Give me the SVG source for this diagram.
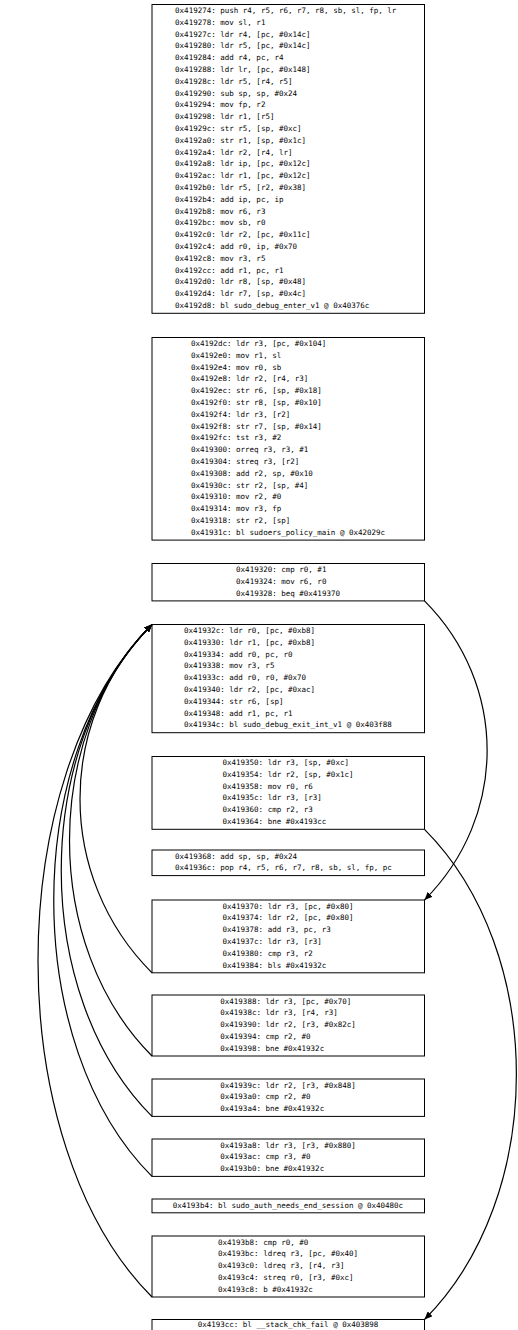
<svg xmlns="http://www.w3.org/2000/svg" width="518" height="1330" viewBox="0 0 518 1330">
<style>
.box{fill:#fff;stroke:#000;stroke-width:1}
.t{font-family:"DejaVu Sans Mono","Liberation Mono",monospace;font-size:7.5px;fill:#000}
.e{fill:none;stroke:#000;stroke-width:1.2}
</style>
<defs>
<marker id="ah" markerUnits="userSpaceOnUse" markerWidth="9" markerHeight="7" refX="8" refY="3.5" orient="auto">
<path d="M0,0 L8,3.5 L0,7 z" fill="#000"/>
</marker>
</defs>
<rect width="518" height="1330" fill="#fff"/>
<g id="n1"><rect class="box" x="152" y="4.5" width="272.5" height="308.8"/>
<text class="t" transform="translate(0,-0.8)"><tspan x="175.1" y="13.9">0x419274: push r4, r5, r6, r7, r8, sb, sl, fp, lr</tspan><tspan x="175.1" y="25.7">0x419278: mov sl, r1</tspan><tspan x="175.1" y="37.5">0x41927c: ldr r4, [pc, #0x14c]</tspan><tspan x="175.1" y="49.3">0x419280: ldr r5, [pc, #0x14c]</tspan><tspan x="175.1" y="61.1">0x419284: add r4, pc, r4</tspan><tspan x="175.1" y="72.9">0x419288: ldr lr, [pc, #0x148]</tspan><tspan x="175.1" y="84.7">0x41928c: ldr r5, [r4, r5]</tspan><tspan x="175.1" y="96.5">0x419290: sub sp, sp, #0x24</tspan><tspan x="175.1" y="108.3">0x419294: mov fp, r2</tspan><tspan x="175.1" y="120.1">0x419298: ldr r1, [r5]</tspan><tspan x="175.1" y="131.9">0x41929c: str r5, [sp, #0xc]</tspan><tspan x="175.1" y="143.7">0x4192a0: str r1, [sp, #0x1c]</tspan><tspan x="175.1" y="155.5">0x4192a4: ldr r2, [r4, lr]</tspan><tspan x="175.1" y="167.3">0x4192a8: ldr ip, [pc, #0x12c]</tspan><tspan x="175.1" y="179.1">0x4192ac: ldr r1, [pc, #0x12c]</tspan><tspan x="175.1" y="190.9">0x4192b0: ldr r5, [r2, #0x38]</tspan><tspan x="175.1" y="202.7">0x4192b4: add ip, pc, ip</tspan><tspan x="175.1" y="214.5">0x4192b8: mov r6, r3</tspan><tspan x="175.1" y="226.3">0x4192bc: mov sb, r0</tspan><tspan x="175.1" y="238.1">0x4192c0: ldr r2, [pc, #0x11c]</tspan><tspan x="175.1" y="249.9">0x4192c4: add r0, ip, #0x70</tspan><tspan x="175.1" y="261.7">0x4192c8: mov r3, r5</tspan><tspan x="175.1" y="273.5">0x4192cc: add r1, pc, r1</tspan><tspan x="175.1" y="285.3">0x4192d0: ldr r8, [sp, #0x48]</tspan><tspan x="175.1" y="297.1">0x4192d4: ldr r7, [sp, #0x4c]</tspan><tspan x="175.1" y="308.9">0x4192d8: bl sudo_debug_enter_v1 @ 0x40376c</tspan></text></g>
<g id="n2"><rect class="box" x="152" y="337.5" width="272.5" height="202.6"/>
<text class="t" transform="translate(0,-0.8)"><tspan x="190.9" y="346.9">0x4192dc: ldr r3, [pc, #0x104]</tspan><tspan x="190.9" y="358.7">0x4192e0: mov r1, sl</tspan><tspan x="190.9" y="370.5">0x4192e4: mov r0, sb</tspan><tspan x="190.9" y="382.3">0x4192e8: ldr r2, [r4, r3]</tspan><tspan x="190.9" y="394.1">0x4192ec: str r6, [sp, #0x18]</tspan><tspan x="190.9" y="405.9">0x4192f0: str r8, [sp, #0x10]</tspan><tspan x="190.9" y="417.7">0x4192f4: ldr r3, [r2]</tspan><tspan x="190.9" y="429.5">0x4192f8: str r7, [sp, #0x14]</tspan><tspan x="190.9" y="441.3">0x4192fc: tst r3, #2</tspan><tspan x="190.9" y="453.1">0x419300: orreq r3, r3, #1</tspan><tspan x="190.9" y="464.9">0x419304: streq r3, [r2]</tspan><tspan x="190.9" y="476.7">0x419308: add r2, sp, #0x10</tspan><tspan x="190.9" y="488.5">0x41930c: str r2, [sp, #4]</tspan><tspan x="190.9" y="500.3">0x419310: mov r2, #0</tspan><tspan x="190.9" y="512.1">0x419314: mov r3, fp</tspan><tspan x="190.9" y="523.9">0x419318: str r2, [sp]</tspan><tspan x="190.9" y="535.7">0x41931c: bl sudoers_policy_main @ 0x42029c</tspan></text></g>
<g id="n3"><rect class="box" x="152" y="563.5" width="272.5" height="37.4"/>
<text class="t" transform="translate(0,-0.8)"><tspan x="236.1" y="572.9">0x419320: cmp r0, #1</tspan><tspan x="236.1" y="584.7">0x419324: mov r6, r0</tspan><tspan x="236.1" y="596.5">0x419328: beq #0x419370</tspan></text></g>
<g id="n4"><rect class="box" x="152" y="624.5" width="272.5" height="108.2"/>
<text class="t" transform="translate(0,-0.8)"><tspan x="184.1" y="633.9">0x41932c: ldr r0, [pc, #0xb8]</tspan><tspan x="184.1" y="645.7">0x419330: ldr r1, [pc, #0xb8]</tspan><tspan x="184.1" y="657.5">0x419334: add r0, pc, r0</tspan><tspan x="184.1" y="669.3">0x419338: mov r3, r5</tspan><tspan x="184.1" y="681.1">0x41933c: add r0, r0, #0x70</tspan><tspan x="184.1" y="692.9">0x419340: ldr r2, [pc, #0xac]</tspan><tspan x="184.1" y="704.7">0x419344: str r6, [sp]</tspan><tspan x="184.1" y="716.5">0x419348: add r1, pc, r1</tspan><tspan x="184.1" y="728.3">0x41934c: bl sudo_debug_exit_int_v1 @ 0x403f88</tspan></text></g>
<g id="n5"><rect class="box" x="152" y="756.5" width="272.5" height="72.8"/>
<text class="t" transform="translate(0,-0.8)"><tspan x="222.5" y="765.9">0x419350: ldr r3, [sp, #0xc]</tspan><tspan x="222.5" y="777.7">0x419354: ldr r2, [sp, #0x1c]</tspan><tspan x="222.5" y="789.5">0x419358: mov r0, r6</tspan><tspan x="222.5" y="801.3">0x41935c: ldr r3, [r3]</tspan><tspan x="222.5" y="813.1">0x419360: cmp r2, r3</tspan><tspan x="222.5" y="824.9">0x419364: bne #0x4193cc</tspan></text></g>
<g id="n6"><rect class="box" x="152" y="850" width="272.5" height="25.6"/>
<text class="t" transform="translate(0,-0.8)"><tspan x="175.1" y="859.4">0x419368: add sp, sp, #0x24</tspan><tspan x="175.1" y="871.2">0x41936c: pop r4, r5, r6, r7, r8, sb, sl, fp, pc</tspan></text></g>
<g id="n7"><rect class="box" x="152" y="900" width="272.5" height="72.8"/>
<text class="t" transform="translate(0,-0.8)"><tspan x="222.5" y="909.4">0x419370: ldr r3, [pc, #0x80]</tspan><tspan x="222.5" y="921.2">0x419374: ldr r2, [pc, #0x80]</tspan><tspan x="222.5" y="933">0x419378: add r3, pc, r3</tspan><tspan x="222.5" y="944.8">0x41937c: ldr r3, [r3]</tspan><tspan x="222.5" y="956.6">0x419380: cmp r3, r2</tspan><tspan x="222.5" y="968.4">0x419384: bls #0x41932c</tspan></text></g>
<g id="n8"><rect class="box" x="152" y="995" width="272.5" height="61"/>
<text class="t" transform="translate(0,-0.8)"><tspan x="220.3" y="1004.4">0x419388: ldr r3, [pc, #0x70]</tspan><tspan x="220.3" y="1016.2">0x41938c: ldr r3, [r4, r3]</tspan><tspan x="220.3" y="1028">0x419390: ldr r2, [r3, #0x82c]</tspan><tspan x="220.3" y="1039.8">0x419394: cmp r2, #0</tspan><tspan x="220.3" y="1051.6">0x419398: bne #0x41932c</tspan></text></g>
<g id="n9"><rect class="box" x="152" y="1079" width="272.5" height="37.4"/>
<text class="t" transform="translate(0,-0.8)"><tspan x="220.3" y="1088.4">0x41939c: ldr r2, [r3, #0x848]</tspan><tspan x="220.3" y="1100.2">0x4193a0: cmp r2, #0</tspan><tspan x="220.3" y="1112">0x4193a4: bne #0x41932c</tspan></text></g>
<g id="n10"><rect class="box" x="152" y="1139" width="272.5" height="37.4"/>
<text class="t" transform="translate(0,-0.8)"><tspan x="220.3" y="1148.4">0x4193a8: ldr r3, [r3, #0x880]</tspan><tspan x="220.3" y="1160.2">0x4193ac: cmp r3, #0</tspan><tspan x="220.3" y="1172">0x4193b0: bne #0x41932c</tspan></text></g>
<g id="n11"><rect class="box" x="152" y="1199" width="272.5" height="13.8"/>
<text class="t"><tspan x="172.8" y="1207.6">0x4193b4: bl sudo_auth_needs_end_session @ 0x40480c</tspan></text></g>
<g id="n12"><rect class="box" x="152" y="1236" width="272.5" height="61"/>
<text class="t" transform="translate(0,-0.8)"><tspan x="218" y="1245.4">0x4193b8: cmp r0, #0</tspan><tspan x="218" y="1257.2">0x4193bc: ldreq r3, [pc, #0x40]</tspan><tspan x="218" y="1269">0x4193c0: ldreq r3, [r4, r3]</tspan><tspan x="218" y="1280.8">0x4193c4: streq r0, [r3, #0xc]</tspan><tspan x="218" y="1292.6">0x4193c8: b #0x41932c</tspan></text></g>
<g id="n13"><rect class="box" x="152" y="1319.5" width="272.5" height="13.8"/>
<text class="t"><tspan x="197.7" y="1327.3">0x4193cc: bl __stack_chk_fail @ 0x403898</tspan></text></g>
<g id="edges">
<path class="e" marker-end="url(#ah)" d="M424.5,600.9 C508,684.9 508,816 424.5,900"/>
<path class="e" marker-end="url(#ah)" d="M424.5,829.3 C547,952.3 547,1196.5 424.5,1319.5"/>
<path class="e" marker-end="url(#ah)" d="M152,972.8 C56,876.8 56,720.5 152,624.5"/>
<path class="e" marker-end="url(#ah)" d="M152,1056 C42,946 42,734.5 152,624.5"/>
<path class="e" marker-end="url(#ah)" d="M152,1116.4 C31,995.4 31,745.5 152,624.5"/>
<path class="e" marker-end="url(#ah)" d="M152,1176.4 C21,1045.4 21,755.5 152,624.5"/>
<path class="e" marker-end="url(#ah)" d="M152,1297 C0,1145 0,776.5 152,624.5"/>
</g>
</svg>
